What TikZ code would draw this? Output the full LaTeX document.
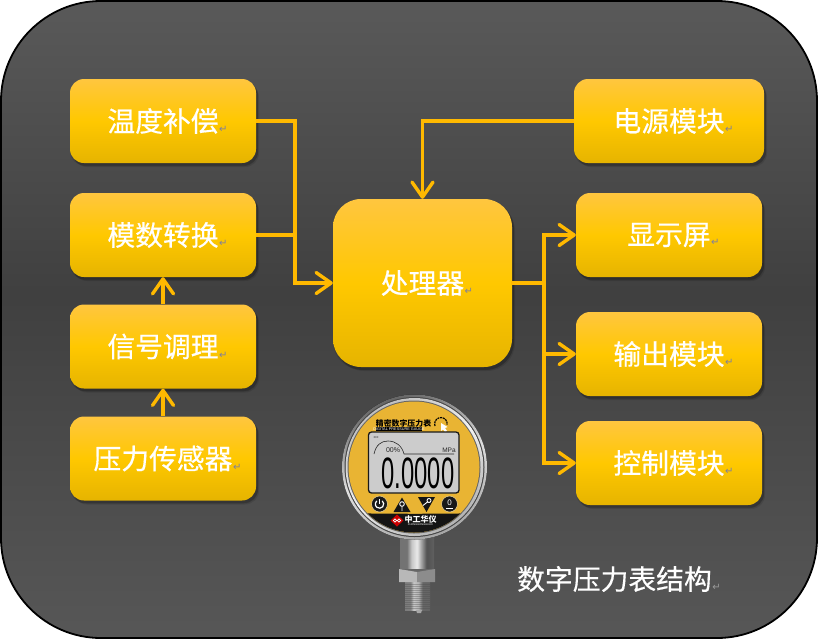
\documentclass[tikz,border=0pt]{standalone}
\usepackage{fontspec}
\usetikzlibrary{arrows.meta,shadows,calc}
\setmainfont{Noto Sans CJK SC}
\newfontfamily\blockfont[FakeBold=0.45]{Noto Sans CJK SC}
\newfontfamily\symfont{DejaVu Sans}
\newfontfamily\latinfont{Liberation Sans}
\definecolor{linecol}{HTML}{FFB900}
\definecolor{blocktop}{HTML}{FFC63F}
\definecolor{blockmid}{HTML}{FFC800}
\definecolor{blockbot}{HTML}{E6B400}
\definecolor{faceyellow}{HTML}{E9B433}
\pgfdeclarehorizontalshading{steelA}{100bp}{color(0bp)=(black!55);color(35bp)=(black!55);color(42bp)=(black!22);color(50bp)=(black!8);color(56bp)=(black!35);color(64bp)=(black!68);color(100bp)=(black!50)}
\pgfdeclarehorizontalshading{steelB}{100bp}{color(0bp)=(black!55);color(36bp)=(black!50);color(42bp)=(black!22);color(52bp)=(black!30);color(60bp)=(black!60);color(100bp)=(black!62)}
\pgfdeclareverticalshading{panelshade}{100bp}{color(0bp)=(black!66);color(25bp)=(black!66);color(52bp)=(black!75);color(75bp)=(black!65);color(100bp)=(black!65)}
\tikzset{
  x=1pt,y=-1pt,
  softshadow/.style={
    general shadow={fill=black,opacity=.10,shadow xshift=1pt,shadow yshift=-2pt,shadow scale=1.01},
    general shadow={fill=black,opacity=.14,shadow xshift=2pt,shadow yshift=-3pt},
    general shadow={fill=black,opacity=.10,shadow xshift=3pt,shadow yshift=-4pt}},
  block/.style={softshadow,rounded corners=14pt,inner sep=0pt,minimum width=186pt,minimum height=84pt,
    top color=blocktop,bottom color=blockbot,middle color=blockmid,
    text=white,font=\blockfont\fontsize{27.8}{30}\selectfont},
  conn/.style={draw=linecol,line width=3.3pt},
  arrowed/.style={conn,-{Straight Barb[length=15pt,width=21pt,line width=3.4pt,round]}},
  bare/.style={inner sep=0pt,outer sep=0pt},
}
\newcommand{\retmark}[1][7f7f9f]{\rlap{\definecolor{rm}{HTML}{#1}\raisebox{-1pt}{\hspace{0.5pt}\symfont\fontsize{10}{10}\selectfont\textcolor{rm}{↵}}}}
\begin{document}
\begin{tikzpicture}
\useasboundingbox (0,0) rectangle (819,640);
\node[bare,draw=black,line width=1.8pt,rounded corners=100pt,minimum width=816pt,minimum height=637pt,shading=panelshade] (panel) at (409,319.5) {};

\node[block] (temp) at (163,121) {温度补偿\retmark};
\node[block] (adc) at (163,235) {模数转换\retmark};
\node[block] (signal) at (163,346.5) {信号调理\retmark};
\node[block] (sensor) at (163,458.5) {压力传感器\retmark};
\node[block,minimum width=179pt,minimum height=168pt,rounded corners=28pt] (cpu) at (422.5,283) {处理器\retmark};
\node[block,minimum width=190pt] (power) at (669,121) {电源模块\retmark};
\node[block] (display) at (669,235) {显示屏\retmark};
\node[block] (output) at (669,354) {输出模块\retmark};
\node[block] (control) at (669,463) {控制模块\retmark};

\coordinate (busL) at (295,283);
\coordinate (busR) at (544,283);
\draw[arrowed] (temp.east) -| (busL) -- (cpu.west);
\draw[conn] (adc.east) -- (adc.east -| busL);
\draw[arrowed] (power.west) -| (cpu.north);
\draw[conn,line cap=rect] (cpu.east) -- (busR);
\draw[arrowed] (busR) |- (display.west);
\draw[arrowed] (busR) |- (output.west);
\draw[arrowed] (busR) |- (control.west);
\draw[arrowed] (signal.north) -- (adc.south);
\draw[arrowed] (sensor.north) -- (signal.south);

\node[bare,text=white,font=\blockfont\fontsize{27.8}{30}\selectfont] (caption) at (614.5,579) {数字压力表结构\retmark[9a9a9a]};

% ---- pressure gauge ----
% stem
\fill[shading=steelA] (400,535) rectangle (434,570);
\fill[shading=steelB] (405,582) rectangle (430,610);
\foreach \yy in {584,586,...,608} \draw[black!70,opacity=.35,line width=.6pt] (405,\yy) -- (430,\yy);
\fill[black!35] (416,610) -- (422,610) -- (421,613) -- (417,613) -- cycle;
\fill[black!60] (399,569) rectangle (435,582);
\fill[black!28] (399,569) -- (417,572) -- (417,582) -- (399,582) -- cycle;
\fill[black!45] (417,572) -- (435,569) -- (435,582) -- (417,582) -- cycle;
% bezel
\fill[left color=black!60,right color=black!35,middle color=black!12,shading angle=20] (414.5,467) circle (72.5);
\fill[black!72] (414.5,467) circle (70);
\fill[left color=black!25,right color=black!30,middle color=black!5,shading angle=35] (414.5,467) circle (69);
\fill[black!60] (414,467) circle (66.5);
\begin{scope}
  \clip (414,467) circle (65.5);
  \fill[faceyellow] (340,400) rectangle (490,535);
  \fill[black!92] (340,513) .. controls (390,514) and (440,514) .. (490,513) -- (490,535) -- (340,535) -- cycle;
\end{scope}
% title
\node[bare,text=black,font=\bfseries\fontsize{7.9}{8}\selectfont] (gtitle) at (403.5,423) {精密数字压力表};
\fill[black] (376,426.5) rectangle (422,431);
\node[bare,text=white,font=\latinfont\fontsize{3.8}{4}\selectfont] (gsub) at (399,428.8) {DIGITAL PRESSURE GAUGE};
% dial icon
\draw[black,line width=1.2pt,dash pattern=on 2pt off .8pt] (435,426) arc (-200:10:6.3);
\fill[white] (441,423) -- (447.5,427) -- (445,428) -- (447,431) -- (445,432) -- (443,429.5) -- (441,431) -- cycle;
% lcd
\draw[black!90,line width=1.3pt,fill=black!20,rounded corners=3pt] (368.5,432) rectangle (459,493);
\draw[black!85,line width=.6pt] (374,454) .. controls (376,445) and (381,441) .. (388,441) .. controls (396,441) and (402,446) .. (404,454) -- (454,454);
\node[bare,text=black!85,font=\latinfont\fontsize{7}{7}\selectfont] (pct) at (393,450.5) {00\%};
\node[bare,text=black!85,font=\latinfont\fontsize{6.5}{7}\selectfont] (unit) at (449,450.5) {MPa};
\node[bare,text=black!85,font=\latinfont\fontsize{2.8}{3}\selectfont] (rng) at (376,438) {300};
\node[bare,text=black,font=\latinfont\fontsize{44}{44}\selectfont] (reading) at (418,473.5) {\scalebox{.54}[1]{0.0000}};
% keys
\fill[black!90,draw=white!50!faceyellow,line width=.5pt] (379.5,504) circle (8);
\fill[black!90,draw=white!50!faceyellow,line width=.5pt] (449.5,504) circle (8);
\draw[white,line width=1.2pt] (382.2,500.8) arc (-50:230:4.2);
\draw[white,line width=1.2pt] (379.5,499) -- (379.5,504);
\node[bare,text=white,font=\latinfont\fontsize{8}{8}\selectfont] (kzero) at (449.5,503) {0};
\draw[white,line width=.7pt] (446,508.5) -- (453,508.5);
\fill[black!92] (402,497.5) -- (410.5,512) -- (393.5,512) -- cycle;
\draw[white,line width=.9pt] (402,504) circle (2.3) (402,506.3) -- (402,511);
\fill[black!92] (418,497) -- (435,497) -- (426.5,512) -- cycle;
\draw[white,line width=.9pt] (429,500.5) circle (2) (427.5,502) -- (423,505.5);
% logo
\fill[red!80!black] (397,514.5) -- (403.5,520.5) -- (397,526.5) -- (390.5,520.5) -- cycle;
\draw[white,line width=.6pt] (395,520.5) circle (1.6) (399,520.5) circle (1.6);
\node[bare,text=white,font=\bfseries\fontsize{8}{8}\selectfont] (logo) at (420.5,519) {中工华仪};
\node[bare,text=white,font=\latinfont\fontsize{2.6}{3}\selectfont] (logosub) at (420.5,525) {ZHONGGONGHUAYI};
\end{tikzpicture}
\end{document}
